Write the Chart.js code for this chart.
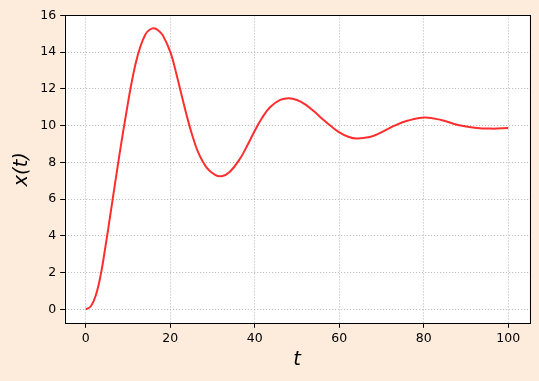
<!DOCTYPE html>
<html>
<head>
<meta charset="utf-8">
<script src="https://cdn.jsdelivr.net/npm/chart.js@4"></script>
<style>
  html, body { margin: 0; padding: 0; background: #fdebdc; }
  canvas { display: block; }
</style>
</head>
<body>
<canvas id="stepChart" width="539" height="381"></canvas>
<script>
// sample times and response (denser where the curve is steep)
const tValues = [0, 1.2, 2.35, 3.5, 4.7, 5.9, 7.05, 8.25, 9.4, 10.6, 11.75, 12.9, 14.1, 15.1, 16.1, 17.1, 18.2,
  20.1, 21.5, 22.7, 23.9, 25.1, 26.6, 28.6, 30.6, 32.2, 34.1, 36.6, 38.1, 40, 41.7, 43.6, 46,
  48, 50, 52, 54, 56, 58, 60, 62.1, 64.1, 67.2, 69.2, 73.1, 76.3, 80.2, 84.1, 88.1, 92, 96, 100];
const xValues = [0, 0.17, 0.75, 1.85, 3.5, 5.3, 7.05, 8.85, 10.45, 12.05, 13.35, 14.3, 14.97, 15.22, 15.3, 15.2, 14.93,
  13.95, 12.76, 11.64, 10.54, 9.55, 8.55, 7.72, 7.32, 7.25, 7.49, 8.24, 8.87, 9.72, 10.42, 11.0, 11.4,
  11.5, 11.4, 11.15, 10.78, 10.37, 9.98, 9.64, 9.4, 9.3, 9.38, 9.55, 10.0, 10.28, 10.44, 10.31, 10.04, 9.89, 9.84, 9.87];
const xTickStep = 20;
const yTickStep = 2;

const points = tValues.map((t, i) => ({ x: t, y: xValues[i] }));

// white axes face + full box round it (chart.js only does left/bottom)
const frame = {
  id: 'frame',
  beforeDraw(chart) {
    const { ctx, chartArea: a } = chart;
    ctx.save();
    ctx.fillStyle = '#fff';
    ctx.fillRect(a.left, a.top, a.right - a.left, a.bottom - a.top);
    ctx.restore();
  },
  afterDraw(chart) {
    const { ctx, chartArea: a } = chart;
    ctx.save();
    ctx.strokeStyle = '#000';
    ctx.lineWidth = 1;
    ctx.strokeRect(Math.round(a.left) + 0.5, Math.round(a.top) + 0.5,
      Math.round(a.right - a.left), Math.round(a.bottom - a.top));
    ctx.restore();
  }
};

const tickFont = { family: 'DejaVu Sans', size: 12.5 };
const labelFont = { family: 'DejaVu Sans', size: 19.5, style: 'italic' };

new Chart(document.getElementById('stepChart'), {
  type: 'line',
  data: {
    datasets: [{
      data: points,
      borderColor: 'rgba(255, 0, 0, 0.82)',
      borderWidth: 2,
      pointRadius: 0,
      fill: false,
      tension: 0.4
    }]
  },
  options: {
    responsive: false,
    animation: false,
    layout: { padding: { left: 0, right: 9.6, top: 15.3, bottom: 0 } },
    plugins: { legend: { display: false }, tooltip: { enabled: false } },
    scales: {
      x: {
        type: 'linear',
        min: -5,
        max: 105,
        afterFit: s => { s.height = 57.7; },
        ticks: { stepSize: xTickStep, includeBounds: false, color: '#000', font: tickFont, padding: 3, maxRotation: 0 },
        grid: { color: '#b0b0b0', lineWidth: 0.8, tickLength: 4.5, tickColor: '#000', tickWidth: 1, tickBorderDash: [] },
        border: { display: false, dash: [1.2, 1.8] },
        title: { display: true, text: 't', color: '#000', font: labelFont, padding: { top: 0, bottom: 9 } }
      },
      y: {
        min: -0.76,
        max: 16.01,
        afterFit: s => { s.width = 64.7; },
        ticks: { stepSize: yTickStep, includeBounds: false, color: '#000', font: tickFont, padding: 4 },
        grid: { color: '#b0b0b0', lineWidth: 0.8, tickLength: 4.5, tickColor: '#000', tickWidth: 1, tickBorderDash: [] },
        border: { display: false, dash: [1.2, 1.8] },
        title: { display: true, text: 'x(t)', color: '#000', font: labelFont, padding: { top: 10, bottom: 0 } }
      }
    }
  },
  plugins: [frame]
});
</script>
</body>
</html>
